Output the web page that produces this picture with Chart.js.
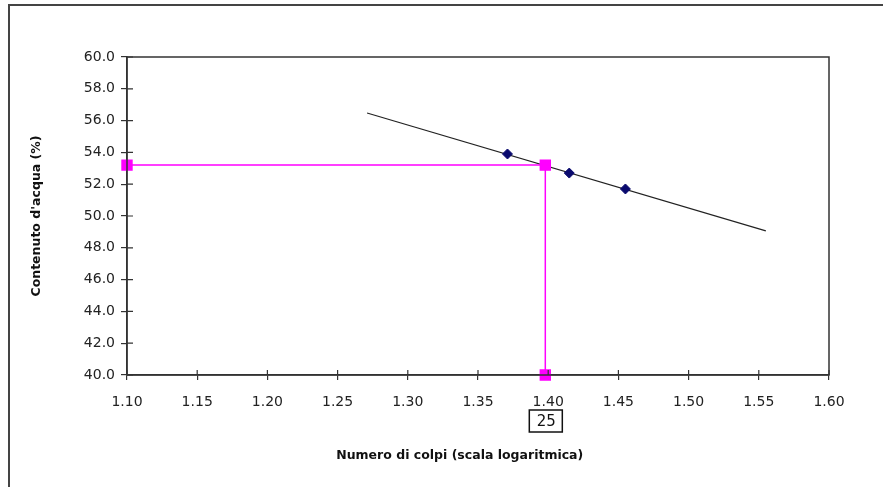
<!DOCTYPE html>
<html>
<head>
<meta charset="utf-8">
<script src="https://cdn.jsdelivr.net/npm/chart.js@4"></script>
<style>
    html, body { margin: 0; padding: 0; background: #fff; overflow: hidden; }
    #wrap { position: relative; width: 883px; height: 487px; }
    #frame { position: absolute; left: 8px; top: 4px; width: 1000px; height: 1000px;
             border-left: 2px solid #444; border-top: 2px solid #444; }
    canvas { position: absolute; left: 0; top: 0; }
</style>
</head>
<body>
<div id="wrap">
    <div id="frame"></div>
    <canvas id="chart-ll" width="883" height="487"></canvas>
</div>
<script>
// Limite di liquidità - Casagrande
// x = log10(numero di colpi), y = contenuto d'acqua (%)
const measXLog = [1.371, 1.415, 1.455];
const measWater = [53.9, 52.7, 51.7];

// retta di regressione (estremi)
const trendXLog = [1.271, 1.555];
const trendWater = [56.48, 49.06];

// 25 colpi -> limite liquido
const llBlows = 25;
const llWater = 53.2;

const xTicks = [1.10, 1.15, 1.20, 1.25, 1.30, 1.35, 1.40, 1.45, 1.50, 1.55, 1.60];
const yTicks = [40, 42, 44, 46, 48, 50, 52, 54, 56, 58, 60];

const llX = Math.log10(llBlows);
const axisColor = '#333';
const tickFont = { family: "'DejaVu Sans', sans-serif", size: 14 };
const titleFont = "bold 12.5px 'DejaVu Sans', sans-serif";

const extrasPlugin = {
    id: 'extras',
    afterDraw(chart) {
        const ctx = chart.ctx;
        const a = chart.chartArea;
        const xs = chart.scales.x;
        const ys = chart.scales.y;
        ctx.save();
        // plot frame
        ctx.strokeStyle = axisColor;
        ctx.lineWidth = 1.5;
        ctx.strokeRect(a.left, a.top, a.right - a.left, a.bottom - a.top);
        // inner half of the crossing tick marks
        ctx.lineWidth = 1.2;
        ctx.beginPath();
        xTicks.forEach(v => {
            const px = xs.getPixelForValue(v);
            ctx.moveTo(px, a.bottom);
            ctx.lineTo(px, a.bottom - 5);
        });
        yTicks.forEach(v => {
            const py = ys.getPixelForValue(v);
            ctx.moveTo(a.left, py);
            ctx.lineTo(a.left + 6, py);
        });
        ctx.stroke();
        // boxed blow count under the axis
        const bx = xs.getPixelForValue(llX);
        const by = a.bottom + 46;
        ctx.lineWidth = 1.5;
        ctx.strokeStyle = '#111';
        ctx.strokeRect(bx - 16, by - 11, 33, 22);
        ctx.fillStyle = '#111';
        ctx.font = "15px 'DejaVu Sans', sans-serif";
        ctx.textAlign = 'center';
        ctx.textBaseline = 'middle';
        ctx.fillText(String(llBlows), bx + 1, by + 1);
        // axis titles
        ctx.font = titleFont;
        ctx.fillText('Numero di colpi (scala logaritmica)', xs.getPixelForValue(1.337), a.bottom + 81);
        ctx.translate(a.left - 90, (a.top + a.bottom) / 2);
        ctx.rotate(-Math.PI / 2);
        ctx.fillText("Contenuto d'acqua (%)", 0, 0);
        ctx.restore();
    }
};

document.addEventListener('DOMContentLoaded', () => {
    const ctx = document.getElementById('chart-ll');
    new Chart(ctx, {
        type: 'scatter',
        data: {
            datasets: [
                {
                    label: 'Prove',
                    data: measXLog.map((x, i) => ({ x: x, y: measWater[i] })),
                    pointStyle: 'rectRot',
                    pointRadius: 5,
                    backgroundColor: '#0a0a6e',
                    borderColor: '#0a0a6e',
                    borderWidth: 1,
                    showLine: false,
                    order: 1
                },
                {
                    label: 'Limite liquido',
                    data: [
                        { x: xTicks[0], y: llWater },
                        { x: llX, y: llWater },
                        { x: llX, y: yTicks[0] }
                    ],
                    showLine: true,
                    borderColor: '#ff00ff',
                    borderWidth: 1.5,
                    pointStyle: 'rect',
                    pointRadius: 7,
                    backgroundColor: '#ff00ff',
                    pointBorderColor: '#ff00ff',
                    clip: false,
                    order: 0
                },
                {
                    label: 'Regressione',
                    data: trendXLog.map((x, i) => ({ x: x, y: trendWater[i] })),
                    showLine: true,
                    borderColor: '#222',
                    borderWidth: 1.2,
                    pointRadius: 0,
                    order: 2
                }
            ]
        },
        options: {
            responsive: false,
            animation: false,
            layout: { padding: { left: 0, right: 54, top: 57, bottom: 0 } },
            plugins: {
                legend: { display: false },
                tooltip: { enabled: false }
            },
            scales: {
                x: {
                    type: 'linear',
                    min: xTicks[0],
                    max: xTicks[xTicks.length - 1],
                    afterBuildTicks: s => { s.ticks = xTicks.map(v => ({ value: v })); },
                    afterFit: s => { s.height = 112; },
                    ticks: {
                        color: '#222',
                        font: tickFont,
                        padding: 14,
                        maxRotation: 0,
                        callback: v => Number(v).toFixed(2)
                    },
                    grid: { drawOnChartArea: false, tickLength: 5, color: axisColor, lineWidth: 1.2 },
                    border: { color: axisColor, width: 1.5 }
                },
                y: {
                    type: 'linear',
                    min: yTicks[0],
                    max: yTicks[yTicks.length - 1],
                    afterBuildTicks: s => { s.ticks = yTicks.map(v => ({ value: v })); },
                    afterFit: s => { s.width = 127; },
                    ticks: {
                        color: '#222',
                        font: tickFont,
                        padding: 6,
                        callback: v => Number(v).toFixed(1)
                    },
                    grid: { drawOnChartArea: false, tickLength: 6, color: axisColor, lineWidth: 1.2 },
                    border: { color: axisColor, width: 1.5 }
                }
            }
        },
        plugins: [extrasPlugin]
    });
});
</script>
</body>
</html>
